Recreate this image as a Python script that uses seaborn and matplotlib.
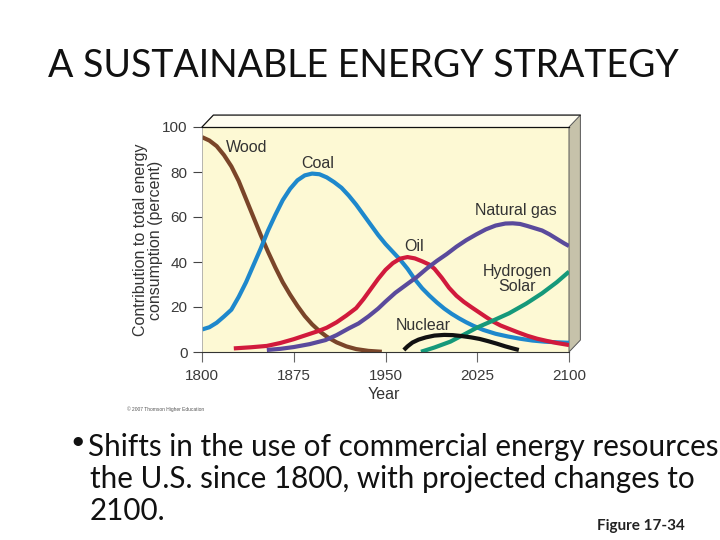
import matplotlib
matplotlib.use("Agg")
import matplotlib.pyplot as plt
import seaborn as sns
import pandas as pd
from matplotlib.patches import Polygon

# ---- data ----
wood_years = [1800, 1806, 1812, 1818, 1824, 1830, 1836, 1842, 1848, 1854, 1860,
              1866, 1872, 1878, 1884, 1890, 1896, 1902, 1910, 1918, 1926, 1936, 1947]
wood_vals = [95.5, 94, 91.5, 87.5, 82.5, 76, 68, 60, 52, 44.5, 37.5,
             31, 25.5, 20.5, 16, 12.3, 9.3, 6.8, 4.3, 2.5, 1.3, 0.5, 0.1]

coal_years = [1800, 1806, 1812, 1818, 1824, 1830, 1836, 1842, 1848, 1854, 1860,
              1866, 1872, 1878, 1884, 1890, 1896, 1902, 1908, 1914, 1920, 1926,
              1932, 1938, 1944, 1950, 1956, 1962, 1968, 1974, 1980, 1986, 1992,
              1998, 2004, 2010, 2016, 2022, 2030, 2040, 2050, 2060, 2070, 2080,
              2090, 2100]
coal_vals = [10, 11, 13, 15.8, 18.8, 24.5, 31, 38.5, 46, 54, 61,
             67.5, 72.5, 76.3, 78.5, 79.3, 79, 77.6, 75.5, 73, 69.5, 65.5,
             61, 56.5, 52, 48, 44.5, 41, 37, 32.3, 28.3, 25, 22,
             19.3, 17, 15, 13.2, 11.6, 9.8, 8.1, 6.9, 5.9, 5.1, 4.6,
             4.3, 4.1]

oil_years = [1826, 1840, 1853, 1864, 1875, 1885, 1895, 1902, 1910, 1918, 1926,
             1932, 1938, 1944, 1950, 1956, 1962, 1968, 1974, 1980, 1986, 1990,
             1996, 2002, 2008, 2014, 2020, 2026, 2032, 2038, 2044, 2050, 2058,
             2066, 2074, 2082, 2090, 2100]
oil_vals = [1.6, 2.1, 2.7, 4, 5.7, 7.5, 9.3, 10.8, 13.2, 16.2, 19.5,
            23.5, 28, 32.5, 36.5, 39.5, 41.5, 42.2, 41.6, 40.3, 38.8, 37,
            33, 28.5, 25, 22.3, 20, 17.8, 15.6, 13.5, 11.8, 10.5, 8.8,
            7.2, 5.9, 4.9, 4, 3.1]

gas_years = [1853, 1864, 1875, 1888, 1901, 1910, 1920, 1928, 1936, 1944, 1950,
             1958, 1966, 1976, 1984, 1992, 2000, 2008, 2016, 2024, 2032, 2040,
             2048, 2054, 2060, 2066, 2072, 2078, 2084, 2090, 2096, 2100]
gas_vals = [0.9, 1.4, 2.2, 3.5, 5.3, 7.5, 10.5, 12.7, 15.8, 19.3, 22.4,
            26.3, 29.5, 33.5, 37.2, 40.5, 43.5, 46.8, 49.7, 52.2, 54.5, 56.2,
            57.1, 57.2, 56.9, 56, 55, 54, 52.3, 50.3, 48.3, 47.1]

hydro_years = [1979, 1990, 2003, 2015, 2025, 2038, 2051, 2065, 2078, 2090, 2100]
hydro_vals = [0.1, 2, 4.6, 8, 10.9, 14, 17.2, 21.5, 26.1, 31, 35.7]

nuc_years = [1965, 1968, 1972, 1977, 1983, 1990, 1998, 2005, 2012, 2020, 2027,
             2034, 2041, 2048, 2054, 2059]
nuc_vals = [0.9, 2.5, 4.2, 5.5, 6.5, 7.3, 7.6, 7.5, 7.1, 6.5, 5.8,
            4.8, 3.7, 2.5, 1.6, 0.9]

x_ticks = [1800, 1875, 1950, 2025, 2100]
y_ticks = [0, 20, 40, 60, 80, 100]

series = {
    "Wood": (wood_years, wood_vals),
    "Coal": (coal_years, coal_vals),
    "Oil": (oil_years, oil_vals),
    "Natural gas": (gas_years, gas_vals),
    "Hydrogen Solar": (hydro_years, hydro_vals),
    "Nuclear": (nuc_years, nuc_vals),
}
palette = {
    "Wood": "#7a4529",
    "Coal": "#1e88cc",
    "Oil": "#d11a3c",
    "Natural gas": "#5a4a9c",
    "Hydrogen Solar": "#15997a",
    "Nuclear": "#111111",
}

rows = []
for name, (ys, vs) in series.items():
    for y, v in zip(ys, vs):
        rows.append({"Year": y, "Value": v, "Source": name})
df = pd.DataFrame(rows)

sns.set_theme(style="white")
plt.rcParams["font.family"] = ["Liberation Sans", "DejaVu Sans"]

fig = plt.figure(figsize=(7.2, 5.4), dpi=100)
fig.patch.set_facecolor("white")
ax = fig.add_axes([202 / 720, 1 - 352 / 540, 367 / 720, 225 / 540])
ax.set_facecolor("#fdf9d4")

sns.lineplot(data=df, x="Year", y="Value", hue="Source", palette=palette,
             linewidth=3.0, ax=ax, legend=False, sort=True, estimator=None,
             solid_capstyle="butt", solid_joinstyle="round")

ax.set_xlim(1800, 2100)
ax.set_ylim(0, 100)
ax.set_xticks(x_ticks)
ax.set_yticks(y_ticks)
ax.tick_params(axis="y", length=6.5, width=0.8, color="#444444", pad=4,
               labelsize=11, labelcolor="#3a3a3a", left=True)
ax.tick_params(axis="x", length=7, width=0.8, color="#666666", pad=5,
               labelsize=11, labelcolor="#3a3a3a", bottom=True)

ax.spines["left"].set_color("#aaaaaa")
ax.spines["left"].set_linewidth(0.6)
ax.spines["bottom"].set_color("#333333")
ax.spines["bottom"].set_linewidth(0.8)
ax.spines["top"].set_color("#111111")
ax.spines["top"].set_linewidth(0.9)
ax.spines["right"].set_visible(False)

ax.set_xlabel("Year", fontsize=11.5, color="#333333")
ax.xaxis.set_label_coords(0.496, -0.19)
ax.xaxis.label.set_va("center")
ax.set_ylabel("Contribution to total energy\nconsumption (percent)",
              fontsize=11.5, color="#333333", linespacing=1.0)
ax.yaxis.set_label_coords(-0.147, 0.498)
ax.yaxis.label.set_va("center")

# 3D box decoration (axes coordinates)
dx, dy = 0.031, 0.053
top = Polygon([(0, 1), (dx, 1 + dy), (1 + dx, 1 + dy), (1, 1)], closed=True,
              transform=ax.transAxes, facecolor="#fffdf0", edgecolor="none",
              clip_on=False, zorder=0.5)
ax.add_patch(top)
ax.plot([0, dx, 1 + dx], [1, 1 + dy, 1 + dy], transform=ax.transAxes,
        color="#111111", lw=0.9, clip_on=False)
right = Polygon([(1, 1), (1 + dx, 1 + dy), (1 + dx, dy), (1, 0)], closed=True,
                transform=ax.transAxes, facecolor="#c6c2aa", edgecolor="#555555",
                lw=0.7, clip_on=False, zorder=0.5)
ax.add_patch(right)

# series labels
lab = dict(fontsize=11.5, color="#333333", ha="center", va="center")
ax.text(1836.8, 90.7, "Wood", **lab)
ax.text(1894.8, 84.0, "Coal", **lab)
ax.text(2056.7, 62.7, "Natural gas", **lab)
ax.text(1973.3, 47.1, "Oil", **lab)
ax.text(2057.5, 32.4, "Hydrogen\nSolar", linespacing=1.05, **lab)
ax.text(1980.7, 11.6, "Nuclear", **lab)

fig.text(127 / 720, 1 - 409 / 540, "\u00a9 2007 Thomson Higher Education",
         fontsize=3.5, color="#555555", ha="left", va="center")

# slide text
slide_font = ["Lato", "DejaVu Sans"]
fig.text(0.5 + 3 / 720, 1 - 77 / 540, "A SUSTAINABLE ENERGY STRATEGY",
         fontsize=27, family=slide_font, ha="center", va="baseline", color="#111111")
fig.text(78 / 720, 1 - 441 / 540, "\u2022", fontsize=18, family=slide_font,
         ha="center", va="center", color="#111111")
fig.text(88 / 720, 1 - 456 / 540, "Shifts in the use of commercial energy resources",
         fontsize=21.3, family=slide_font, ha="left", va="baseline", color="#111111")
fig.text(90 / 720, 1 - 488 / 540, "the U.S. since 1800, with projected changes to",
         fontsize=21.3, family=slide_font, ha="left", va="baseline", color="#111111")
fig.text(90 / 720, 1 - 520 / 540, "2100.",
         fontsize=21.3, family=slide_font, ha="left", va="baseline", color="#111111")
fig.text(641 / 720, 1 - 530 / 540, "Figure 17-34", fontsize=11, family=slide_font,
         weight="bold", ha="center", va="baseline", color="#222222")

fig.savefig("out.png", dpi=100)
